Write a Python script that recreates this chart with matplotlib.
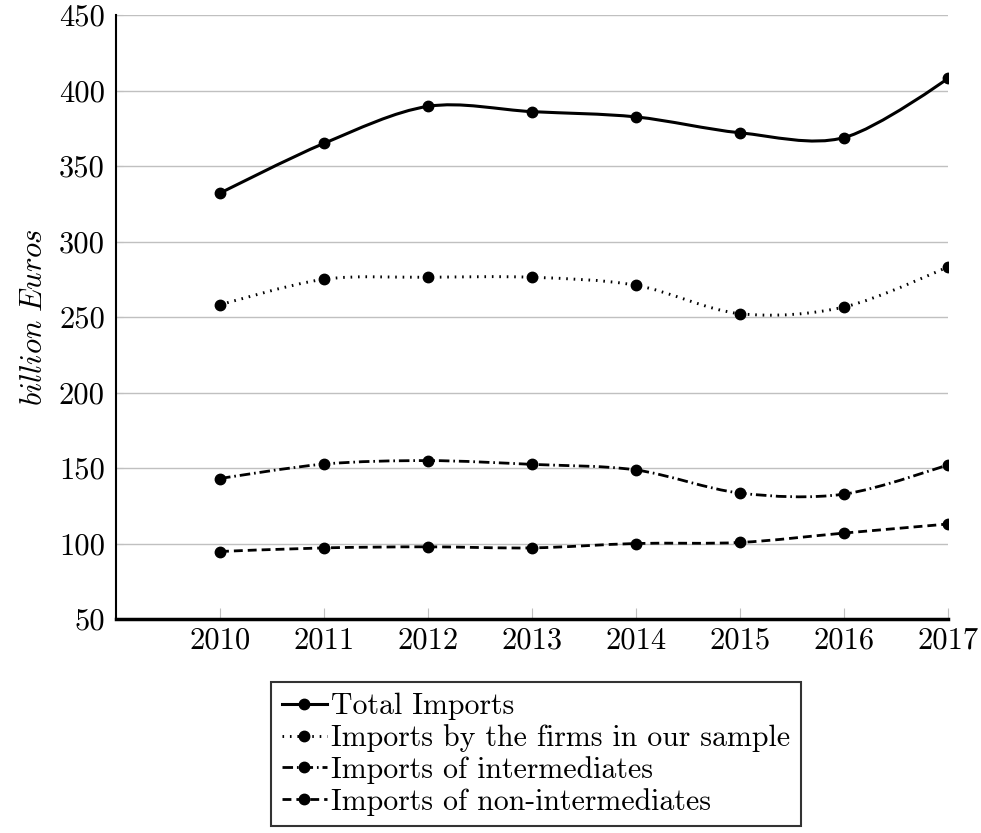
import numpy as np
import matplotlib
matplotlib.use("Agg")
import matplotlib.pyplot as plt
from matplotlib.path import Path
from matplotlib.patches import PathPatch
from matplotlib.lines import Line2D

plt.rcParams['font.family'] = 'serif'
plt.rcParams['font.serif'] = ['cmr10']
plt.rcParams['mathtext.fontset'] = 'cm'
plt.rcParams['axes.unicode_minus'] = False

years = [2010, 2011, 2012, 2013, 2014, 2015, 2016, 2017]
total = [332, 365, 389.5, 386, 382.5, 372, 368.8, 408]
sample = [258, 275, 276.3, 276.3, 271, 252.2, 256.6, 283.3]
intermed = [143, 152.6, 154.9, 152.4, 148.7, 133.4, 132.7, 152.2]
nonintermed = [94.7, 97.1, 97.8, 97.1, 100, 100.7, 106.9, 112.9]

labels = ["Total Imports", "Imports by the firms in our sample",
          "Imports of intermediates", "Imports of non-intermediates"]
styles = ["-", (0, (0.55, 2.0)), (0, (3.8, 1.4, 0.6, 1.4)), (0, (3.2, 1.8))]
widths = [2.2, 2.1, 2.0, 2.0]


def smooth_path(xs, ys, t=0.16):
    # pgfplots-like "smooth": cubic bezier through the points
    pts = np.column_stack([xs, ys]).astype(float)
    n = len(pts)
    tang = np.zeros_like(pts)
    for i in range(1, n - 1):
        tang[i] = t * (pts[i + 1] - pts[i - 1])
    verts = [tuple(pts[0])]
    codes = [Path.MOVETO]
    for i in range(n - 1):
        c1 = pts[i] + tang[i]
        c2 = pts[i + 1] - tang[i + 1]
        verts += [tuple(c1), tuple(c2), tuple(pts[i + 1])]
        codes += [Path.CURVE4] * 3
    return Path(verts, codes)


fig = plt.figure(figsize=(9.81, 8.33), dpi=100)
ax = fig.add_axes([116 / 981, 1 - 619 / 833, (948 - 116) / 981, (619 - 15) / 833])

series = [total, sample, intermed, nonintermed]
handles = []
for vals, ls, lw, lab in zip(series, styles, widths, labels):
    ax.add_patch(PathPatch(smooth_path(years, vals), fill=False, edgecolor='black',
                           linestyle=ls, linewidth=lw, zorder=3))
    ax.plot(years, vals, linestyle='none', marker='o', markersize=7.5, color='black', zorder=4)
    handles.append(Line2D([], [], color='black', linestyle=ls, linewidth=lw,
                          marker='o', markersize=7.5))

ax.set_xlim(2009, 2017)
ax.set_ylim(50, 450)
ax.set_xticks(years)
ax.set_yticks(np.arange(50, 451, 50))
ax.yaxis.grid(True, color='#c0c0c0', linewidth=1.0)
ax.set_axisbelow(True)
for s in ['top', 'right']:
    ax.spines[s].set_visible(False)
ax.spines['left'].set_linewidth(1.5)
ax.spines['bottom'].set_linewidth(2.5)
ax.tick_params(axis='x', direction='in', length=8, color='#c0c0c0', width=0.8,
               labelsize=22, pad=6)
ax.tick_params(axis='y', direction='in', length=5, color='#c0c0c0', width=0.8,
               labelsize=22, pad=8)
ax.set_ylabel(r'$\mathit{billion\ Euros}$', fontsize=22, labelpad=8)

leg = fig.legend(handles, labels, loc='upper left',
                 bbox_to_anchor=(271 / 981, 1 - 682 / 833), fontsize=21.5,
                 frameon=True, fancybox=False, handlelength=1.5, handletextpad=0.15,
                 labelspacing=0.13, borderpad=0.36, borderaxespad=0)
leg.get_frame().set_edgecolor('black')
leg.get_frame().set_linewidth(1.5)

fig.savefig("out.png", dpi=100)
